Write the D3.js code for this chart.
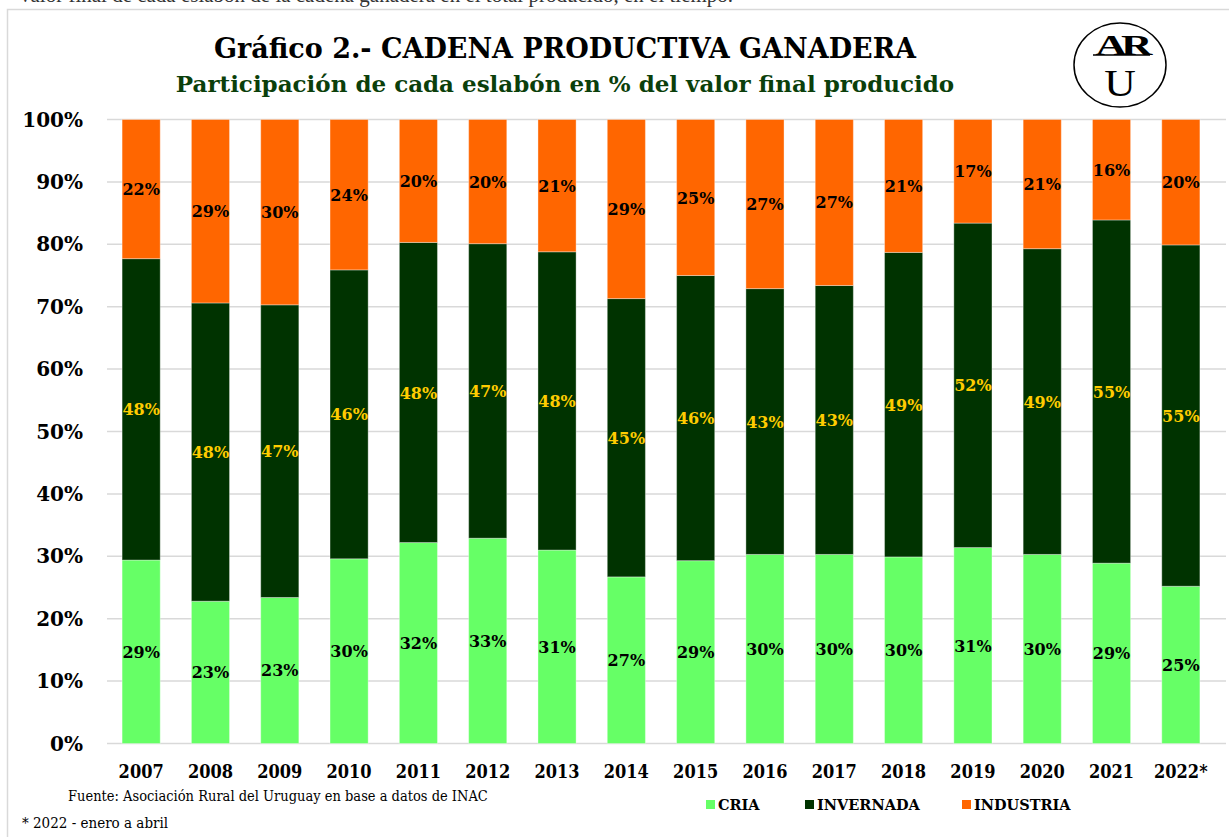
<html>
 <head>
  <meta charset="utf-8">
  <title>Cadena productiva ganadera</title>
  <script src="https://d3js.org/d3.v7.min.js"></script>
  <style>
   body{margin:0;background:#fff;}
   text{font-family:"DejaVu Serif",serif;}
  </style>
 </head>
 <body>
  <svg></svg>
  <script>
    var svgWidth=1229,svgHeight=837;

    // datos (% del valor final)
    var years     = ["2007","2008","2009","2010","2011","2012","2013","2014","2015","2016","2017","2018","2019","2020","2021","2022*"];
    var cria      = [29.4,22.8,23.4,29.6,32.2,32.9,31.0,26.7,29.3,30.3,30.3,29.9,31.4,30.3,28.9,25.2];
    var invernada = [48.3,47.8,46.9,46.3,48.1,47.2,47.8,44.6,45.7,42.6,43.1,48.8,52.0,49.0,55.0,54.7];
    var industria = [22.3,29.4,29.7,24.1,19.7,19.9,21.2,28.7,25.0,27.1,26.6,21.3,16.6,20.7,16.1,20.1];
    var yTicks    = [0,10,20,30,40,50,60,70,80,90,100];
    var keys      = ["CRIA","INVERNADA","INDUSTRIA"];
    var colors    = {CRIA:"#66ff66",INVERNADA:"#003300",INDUSTRIA:"#ff6600"};
    var labelCol  = {CRIA:"#000",INVERNADA:"#ffcc00",INDUSTRIA:"#000"};

    var rows = years.map(function(y,i){return {year:y,CRIA:cria[i],INVERNADA:invernada[i],INDUSTRIA:industria[i]};});
    var series = d3.stack().keys(keys)(rows);

    var svg = d3.select("svg").attr("width",svgWidth).attr("height",svgHeight);

    // texto de la pagina, cortado arriba
    svg.append("text").attr("x",20).attr("y",2)
       .style("font-family","'Liberation Serif',serif").style("font-size","21px").attr("fill","#333")
       .text("valor final de cada eslabón de la cadena ganadera en el total producido, en el tiempo.");

    // marco
    svg.append("rect").attr("x",7.5).attr("y",9.5).attr("width",1240).attr("height",900)
       .attr("fill","#fff").attr("stroke","#d9d9d9").attr("stroke-width",1.5);

    var x = d3.scaleBand().domain(years).range([106.5,1215.5]).paddingInner(0.45).paddingOuter(0.225);
    var y = d3.scaleLinear().domain([0,100]).range([743.5,119.5]);

    // grilla
    svg.append("g").selectAll("line").data(yTicks).enter().append("line")
       .attr("x1",107).attr("x2",1226)
       .attr("y1",function(d){return y(d);}).attr("y2",function(d){return y(d);})
       .attr("stroke","#d9d9d9").attr("stroke-width",1.5);

    // eje y
    svg.append("g").selectAll("text").data(yTicks).enter().append("text")
       .attr("x",83).attr("y",function(d){return y(d)+7;})
       .attr("text-anchor","end").style("font-size","20px").style("font-weight","bold")
       .text(function(d){return d+"%";});

    // barras
    var groups = svg.append("g").selectAll("g").data(series).enter().append("g")
       .attr("fill",function(s){return colors[s.key];});
    groups.selectAll("rect").data(function(s){return s;}).enter().append("rect")
       .attr("x",function(d){return x(d.data.year);})
       .attr("width",x.bandwidth())
       .attr("y",function(d){return y(d[1]);})
       .attr("height",function(d){return y(d[0])-y(d[1]);})
       .attr("stroke","#ffffff").attr("stroke-opacity",0.35).attr("stroke-width",1);

    // etiquetas
    series.forEach(function(s){
      svg.append("g").selectAll("text").data(s).enter().append("text")
         .attr("x",function(d){return x(d.data.year)+x.bandwidth()/2;})
         .attr("y",function(d){return y((d[0]+d[1])/2)+6;})
         .attr("text-anchor","middle").style("font-size","16px").style("font-weight","bold")
         .attr("fill",labelCol[s.key])
         .text(function(d){return Math.round(d[1]-d[0])+"%";});
    });

    // eje x
    svg.append("g").selectAll("text").data(years).enter().append("text")
       .attr("x",function(d){return x(d)+x.bandwidth()/2;}).attr("y",778)
       .attr("text-anchor","middle").style("font-size","18px").style("font-weight","bold")
       .style("font-stretch","condensed")
       .text(function(d){return d;});

    // titulos
    svg.append("text").attr("x",565).attr("y",58).attr("text-anchor","middle")
       .style("font-size","27px").style("font-weight","bold")
       .text("Gráfico 2.- CADENA PRODUCTIVA GANADERA");
    svg.append("text").attr("x",565).attr("y",92).attr("text-anchor","middle")
       .style("font-size","23px").style("font-weight","bold").attr("fill","#0b3f0b")
       .text("Participación de cada eslabón en % del valor final producido");

    // logo ARU
    var logo = svg.append("g").attr("transform","translate(1120,65)");
    logo.append("ellipse").attr("rx",46).attr("ry",42).attr("fill","none").attr("stroke","#000").attr("stroke-width",1.5);
    logo.append("text").attr("transform","translate(1,-10) scale(1.5,1)").attr("text-anchor","middle")
       .style("font-family","'Liberation Serif',serif").style("font-size","29px").style("font-weight","bold")
       .attr("letter-spacing","-4")
       .text("AR");
    logo.append("line").attr("x1",-27).attr("x2",30).attr("y1",-10).attr("y2",-10)
       .attr("stroke","#000").attr("stroke-width",1.5);
    logo.append("text").attr("transform","translate(0,31) scale(1.15,1)").attr("text-anchor","middle")
       .style("font-family","'Liberation Serif',serif").style("font-size","38px")
       .text("U");

    // leyenda
    var legX = [706,805,962];
    var leg = svg.append("g").selectAll("g").data(keys).enter().append("g")
       .attr("transform",function(d,i){return "translate("+legX[i]+",800)";});
    leg.append("rect").attr("width",9).attr("height",9).attr("fill",function(d){return colors[d];});
    leg.append("text").attr("x",12).attr("y",10).style("font-size","14.5px").style("font-weight","bold")
       .text(function(d){return d;});

    // notas
    svg.append("text").attr("x",68).attr("y",801)
       .style("font-size","14.5px").style("font-stretch","condensed")
       .text("Fuente: Asociación Rural del Uruguay en base a datos de INAC");
    svg.append("text").attr("x",22).attr("y",828)
       .style("font-size","15px").style("font-stretch","condensed")
       .text("* 2022 - enero a abril");
  </script>
 </body>
</html>
